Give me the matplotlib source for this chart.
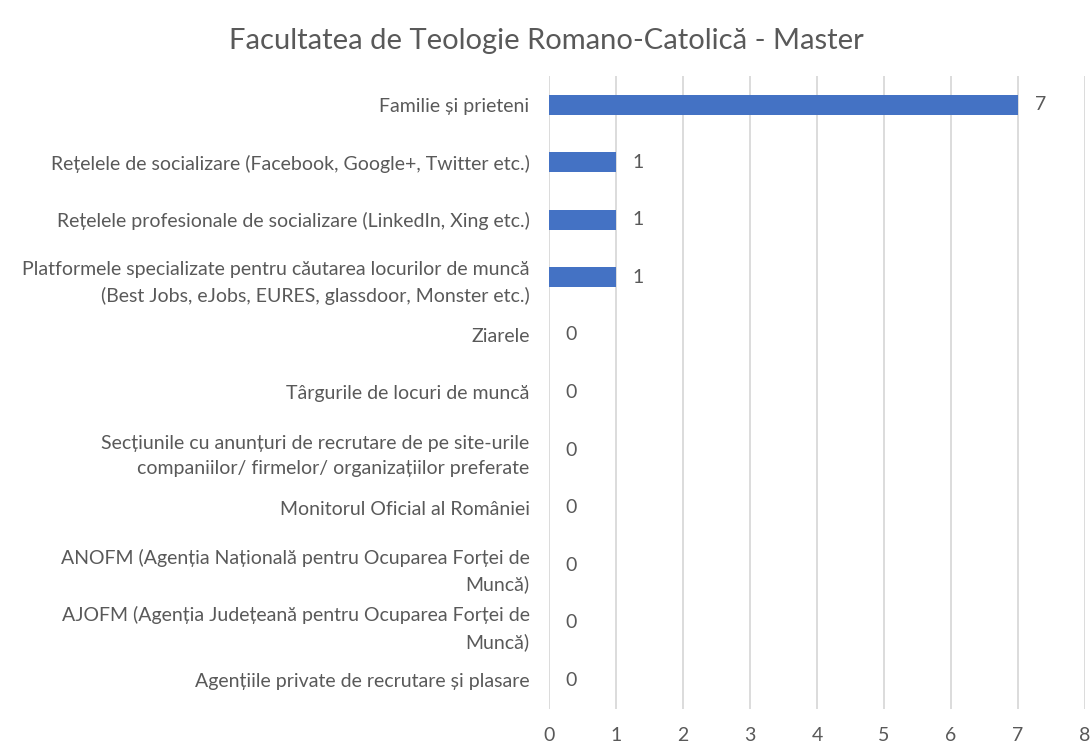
import matplotlib
matplotlib.use("Agg")
import matplotlib.pyplot as plt

# ==================== 数据 ====================
categories = [
    "Familie și prieteni",
    "Rețelele de socializare (Facebook, Google+, Twitter etc.)",
    "Rețelele profesionale de socializare (LinkedIn, Xing etc.)",
    "Platformele specializate pentru căutarea locurilor de muncă\n(Best Jobs, eJobs, EURES, glassdoor, Monster etc.)",
    "Ziarele",
    "Târgurile de locuri de muncă",
    "Secțiunile cu anunțuri de recrutare de pe site-urile\ncompaniilor/ firmelor/ organizațiilor preferate",
    "Monitorul Oficial al României",
    "ANOFM (Agenția Națională pentru Ocuparea Forței de\nMuncă)",
    "AJOFM (Agenția Județeană pentru Ocuparea Forței de\nMuncă)",
    "Agențiile private de recrutare și plasare",
]
values = [7, 1, 1, 1, 0, 0, 0, 0, 0, 0, 0]
x_ticks = [0, 1, 2, 3, 4, 5, 6, 7, 8]
title = "Facultatea de Teologie Romano-Catolică - Master"

# ==================== 样式 ====================
plt.rcParams['font.family'] = ['Lato', 'DejaVu Sans']
text_color = '#595959'
bar_color = '#4472C4'
grid_color = '#D9D9D9'
fs = 14

fig = plt.figure(figsize=(10.92, 7.44), dpi=100)
ax = fig.add_axes([0.5027, 0.047, 0.491, 0.851])

y = list(range(len(categories)))
ax.barh(y, values, height=0.35, color=bar_color, zorder=3)
for yi, v in zip(y, values):
    ax.text(v + 0.25, yi, str(v), va='center', ha='left',
            fontsize=fs, color=text_color)

ax.set_yticks(y)
ax.set_yticklabels(categories, fontsize=fs, color=text_color, linespacing=1.6)
ax.set_ylim(len(categories) - 0.5, -0.5)
ax.set_xlim(0, 8)
ax.set_xticks(x_ticks)
ax.set_xticklabels([str(t) for t in x_ticks], fontsize=fs, color=text_color)
ax.tick_params(axis='y', length=0, pad=14)
ax.tick_params(axis='x', length=0, pad=13)
ax.grid(axis='x', color=grid_color, linewidth=1.3, zorder=0)
for s in ax.spines.values():
    s.set_visible(False)

fig.text(0.5, 0.945, title, ha='center', va='center', fontsize=21, color=text_color)

fig.savefig("out.png", dpi=100)
